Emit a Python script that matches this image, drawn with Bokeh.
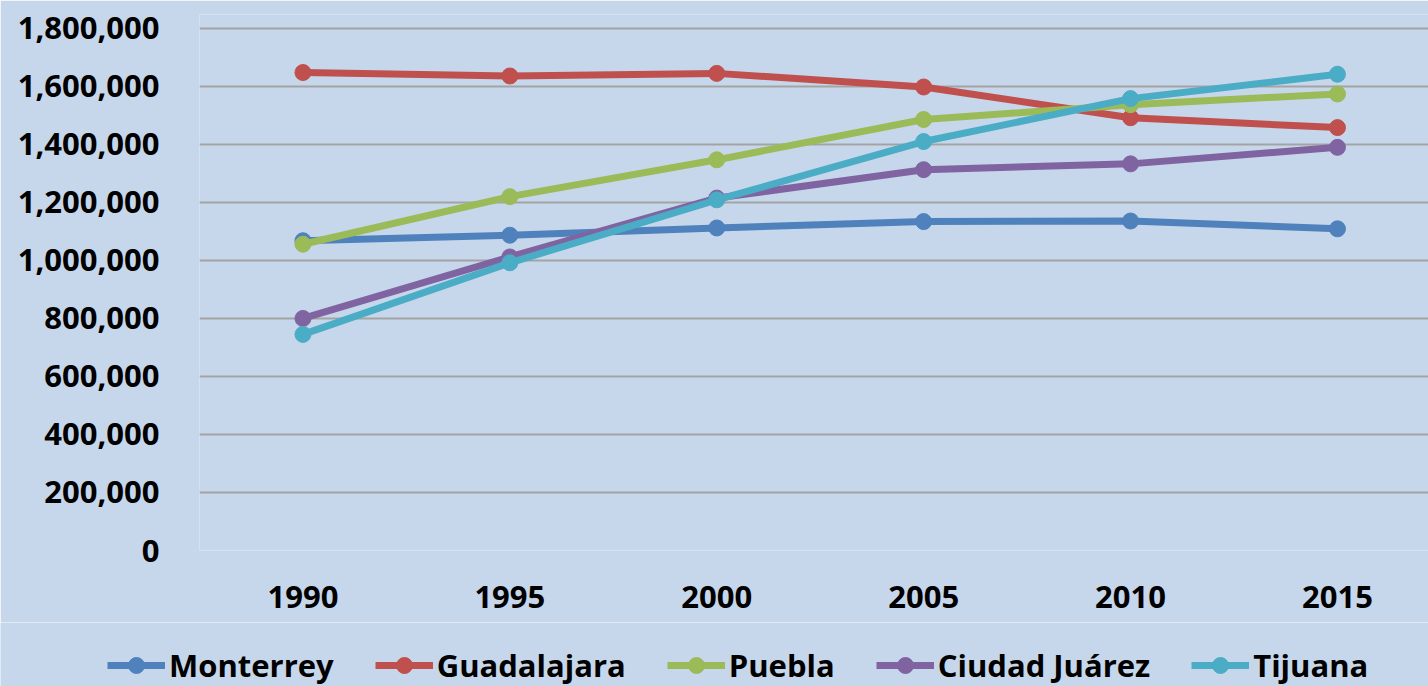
from bokeh.plotting import figure
from bokeh.models import Range1d, NumeralTickFormatter, FixedTicker, Legend, LegendItem
from bokeh.layouts import column
from bokeh.embed import file_html
from bokeh.resources import INLINE

years = ["1990", "1995", "2000", "2005", "2010", "2015"]
monterrey = [1068000, 1087000, 1112000, 1134000, 1136000, 1109000]
guadalajara = [1648000, 1636000, 1645000, 1598000, 1492000, 1458000]
puebla = [1056000, 1220000, 1347000, 1486000, 1537000, 1574000]
ciudad_juarez = [800000, 1012000, 1215000, 1313000, 1333000, 1390000]
tijuana = [745000, 992000, 1209000, 1410000, 1558000, 1642000]

series = [
    ("Monterrey", monterrey, "#4F81BD"),
    ("Guadalajara", guadalajara, "#C0504D"),
    ("Puebla", puebla, "#9BBB59"),
    ("Ciudad Juárez", ciudad_juarez, "#8064A2"),
    ("Tijuana", tijuana, "#4BACC6"),
]

xs = list(range(len(years)))
BG = "#C6D7EB"
FONT = "Open Sans"

p = figure(width=1428, height=622, output_backend="svg", toolbar_location=None,
           x_range=Range1d(-0.5, 5.44), y_range=Range1d(0, 1848000),
           min_border_left=199, min_border_right=0, min_border_top=14, min_border_bottom=72)
p.background_fill_color = BG
p.border_fill_color = BG
p.outline_line_color = None

p.xgrid.grid_line_color = None
p.ygrid.grid_line_color = "#A3A3A3"
p.ygrid.grid_line_width = 2
p.yaxis.ticker = FixedTicker(ticks=[i * 200000 for i in range(10)])
p.yaxis.formatter = NumeralTickFormatter(format="0,0")
p.xaxis.ticker = FixedTicker(ticks=xs)
p.xaxis.major_label_overrides = {i: y for i, y in enumerate(years)}

for ax in (p.xaxis, p.yaxis):
    ax.axis_line_color = None
    ax.major_tick_line_color = None
    ax.minor_tick_line_color = None
    ax.major_label_text_font = FONT
    ax.major_label_text_font_style = "bold"
    ax.major_label_text_color = "#000000"
p.yaxis.major_label_text_font_size = "31px"
p.yaxis.major_label_standoff = 34
p.xaxis.major_label_text_font_size = "31px"
p.xaxis.major_label_standoff = 29

for name, vals, col in series:
    p.line(xs, vals, line_color=col, line_width=7)
    p.scatter(xs, vals, size=16, fill_color=col, line_color=col, marker="circle")

# legend strip below the chart
lg = figure(width=1428, height=64, output_backend="svg", toolbar_location=None,
            x_range=Range1d(0, 1), y_range=Range1d(0, 1),
            x_axis_location=None, y_axis_location=None,
            min_border_left=0, min_border_right=0, min_border_top=0, min_border_bottom=0)
lg.background_fill_color = BG
lg.border_fill_color = BG
lg.outline_line_color = None
lg.grid.visible = False

unaligned = True
try:
    p.frame_align = False
    lg.frame_align = False
except Exception:
    unaligned = False

items = []
for name, vals, col in series:
    # same series drawn off-screen in the strip, only so the legend can show its glyph
    r1 = lg.line(xs, vals, line_color=col, line_width=7)
    r2 = lg.scatter(xs, vals, size=16, fill_color=col, line_color=col, marker="circle")
    items.append(LegendItem(label=name, renderers=[r1, r2]))

if unaligned:
    loc, gw, sp = (107, 0), 58, 41
else:
    loc, gw, sp = (8, 0), 50, 28

legend = Legend(items=items, orientation="horizontal", location=loc,
                label_text_font=FONT, label_text_font_style="bold",
                label_text_font_size="31px", label_text_color="#000000",
                glyph_width=gw, glyph_height=40, label_standoff=4, spacing=sp,
                padding=0, margin=0, background_fill_alpha=0, border_line_alpha=0)
lg.add_layout(legend, "center")

layout = column(p, lg, spacing=0)
open("out.html", "w").write(file_html(layout, INLINE))
